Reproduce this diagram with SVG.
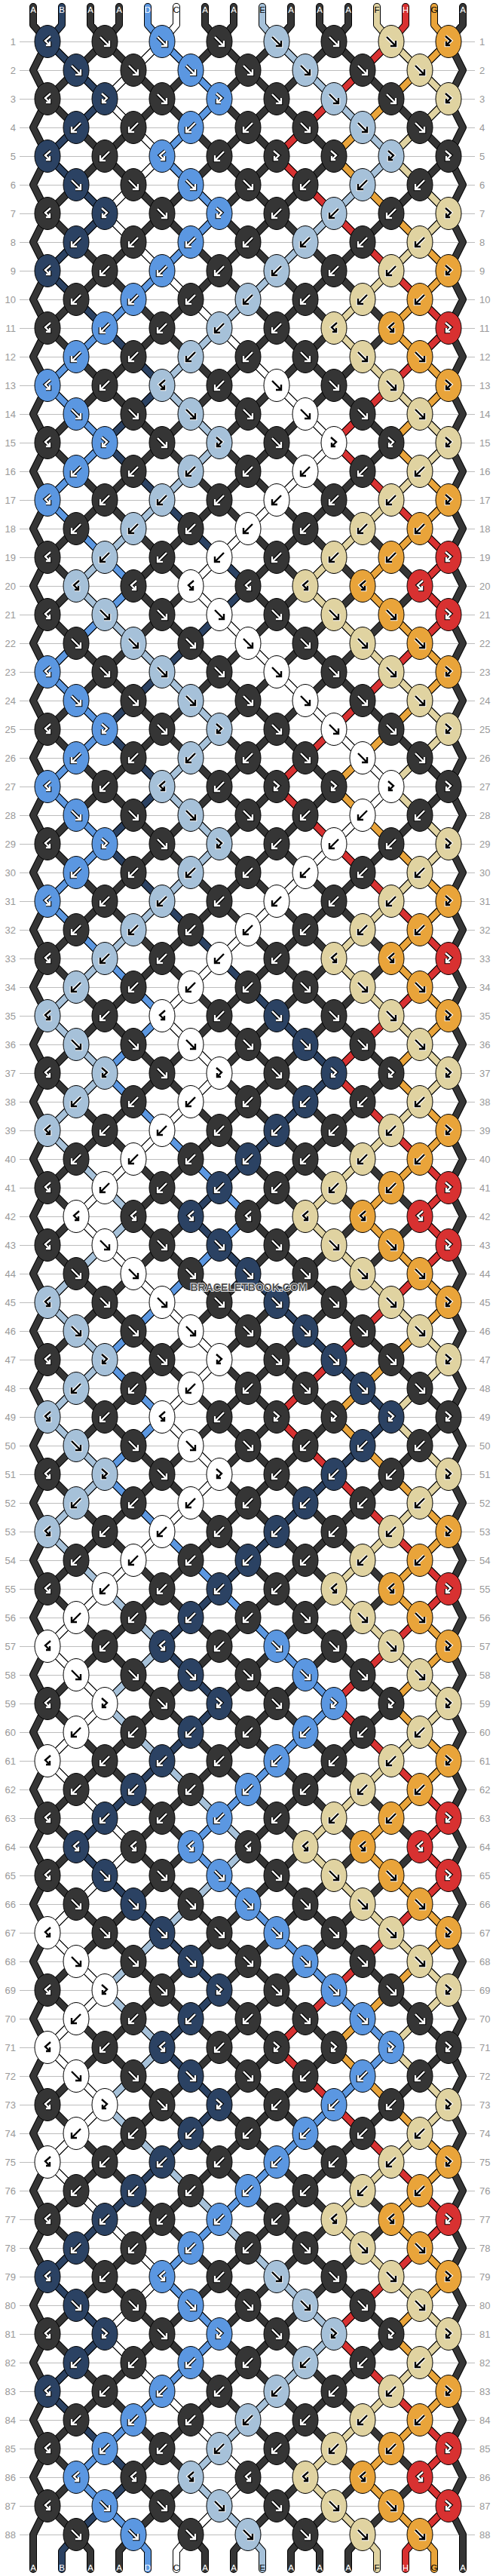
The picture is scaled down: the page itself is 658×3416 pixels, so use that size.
<svg xmlns="http://www.w3.org/2000/svg" width="658" height="3416" viewBox="0 0 658 3416">
<style>
.o{fill:none;stroke:#000;stroke-width:10;stroke-linecap:round;stroke-linejoin:round}
.t{fill:none;stroke-width:8;stroke-linecap:round;stroke-linejoin:round}
.a{stroke:#353535}.b{stroke:#2b4263}.c{stroke:#fff}.d{stroke:#5b97e1}.e{stroke:#a6c1d9}.f{stroke:#e0d3a1}.g{stroke:#e9a43a}.h{stroke:#d83131}
.w1{fill:none;stroke:#000;stroke-width:4.6}
.w2{fill:none;stroke:#fff;stroke-width:2.4}
.k1{fill:none;stroke:#fff;stroke-width:4.6}
.k2{fill:none;stroke:#000;stroke-width:2.4}
.rl{font-family:"Liberation Sans",Arial,sans-serif;font-size:13px;fill:#999}
.sl{font-family:"Liberation Sans",Arial,sans-serif;font-size:11.5px;text-anchor:middle}
</style>
<defs>
<clipPath id="cl"><rect x="63" y="55" width="532" height="3306"/></clipPath>
<pattern id="pl" x="26" y="55" width="604" height="38" patternUnits="userSpaceOnUse"><rect width="604" height="1" fill="#bdbdbd"/></pattern>
<ellipse id="k" rx="17" ry="21.5" stroke="#000" stroke-width="1"/>
<path id="gF" d="M-6-6L5 5M6-1V6H-1"/>
<path id="gB" d="M6-6L-5 5M-6-1V6H1"/>
<path id="gP" d="M-4-7L3-1L-3 5M-3 0V5H2"/>
<path id="gQ" d="M4-7L-3-1L3 5M3 0V5H-2"/>
<g id="wF"><use href="#gF" class="w1"/><use href="#gF" class="w2"/></g>
<g id="wB"><use href="#gB" class="w1"/><use href="#gB" class="w2"/></g>
<g id="wP"><use href="#gP" class="w1"/><use href="#gP" class="w2"/></g>
<g id="wQ"><use href="#gQ" class="w1"/><use href="#gQ" class="w2"/></g>
<g id="kF"><use href="#gF" class="k1"/><use href="#gF" class="k2"/></g>
<g id="kB"><use href="#gB" class="k1"/><use href="#gB" class="k2"/></g>
<g id="kP"><use href="#gP" class="k1"/><use href="#gP" class="k2"/></g>
<g id="kQ"><use href="#gQ" class="k1"/><use href="#gQ" class="k2"/></g>
<use id="eA" href="#k" fill="#353535"/>
<use id="eB" href="#k" fill="#2b4263"/>
<use id="eC" href="#k" fill="#ffffff"/>
<use id="eD" href="#k" fill="#5b97e1"/>
<use id="eE" href="#k" fill="#a6c1d9"/>
<use id="eF" href="#k" fill="#e0d3a1"/>
<use id="eG" href="#k" fill="#e9a43a"/>
<use id="eH" href="#k" fill="#d83131"/>
<g id="AF"><use href="#eA"/><use href="#wF"/></g>
<g id="AB"><use href="#eA"/><use href="#wB"/></g>
<g id="AP"><use href="#eA"/><use href="#wP"/></g>
<g id="AQ"><use href="#eA"/><use href="#wQ"/></g>
<g id="BF"><use href="#eB"/><use href="#wF"/></g>
<g id="BB"><use href="#eB"/><use href="#wB"/></g>
<g id="BP"><use href="#eB"/><use href="#wP"/></g>
<g id="BQ"><use href="#eB"/><use href="#wQ"/></g>
<g id="CF"><use href="#eC"/><use href="#kF"/></g>
<g id="CB"><use href="#eC"/><use href="#kB"/></g>
<g id="CP"><use href="#eC"/><use href="#kP"/></g>
<g id="CQ"><use href="#eC"/><use href="#kQ"/></g>
<g id="DF"><use href="#eD"/><use href="#wF"/></g>
<g id="DB"><use href="#eD"/><use href="#wB"/></g>
<g id="DP"><use href="#eD"/><use href="#wP"/></g>
<g id="DQ"><use href="#eD"/><use href="#wQ"/></g>
<g id="EF"><use href="#eE"/><use href="#kF"/></g>
<g id="EB"><use href="#eE"/><use href="#kB"/></g>
<g id="EP"><use href="#eE"/><use href="#kP"/></g>
<g id="EQ"><use href="#eE"/><use href="#kQ"/></g>
<g id="FF"><use href="#eF"/><use href="#kF"/></g>
<g id="FB"><use href="#eF"/><use href="#kB"/></g>
<g id="FP"><use href="#eF"/><use href="#kP"/></g>
<g id="FQ"><use href="#eF"/><use href="#kQ"/></g>
<g id="GF"><use href="#eG"/><use href="#kF"/></g>
<g id="GB"><use href="#eG"/><use href="#kB"/></g>
<g id="GP"><use href="#eG"/><use href="#kP"/></g>
<g id="GQ"><use href="#eG"/><use href="#kQ"/></g>
<g id="HP"><use href="#eH"/><use href="#wP"/></g>
<g id="HQ"><use href="#eH"/><use href="#wQ"/></g>
<path id="lat" d="M63-477l532 532m-532-456l532 532m-532-456l532 532m-532-456l532 532m-532-456l532 532m-532-456l532 532m-532-456l532 532m-532-456l532 532m-532-456l532 532m-532-456l532 532m-532-456l532 532
m-532-456l532 532m-532-456l532 532m-532-456l532 532m-532-456l532 532m-532-456l532 532m-532-456l532 532m-532-456l532 532m-532-456l532 532m-532-456l532 532m-532-456l532 532
m-532-456l532 532m-532-456l532 532m-532-456l532 532m-532-456l532 532m-532-456l532 532m-532-456l532 532m-532-456l532 532m-532-456l532 532m-532-456l532 532m-532-456l532 532
m-532-456l532 532m-532-456l532 532m-532-456l532 532m-532-456l532 532m-532-456l532 532m-532-456l532 532m-532-456l532 532m-532-456l532 532m-532-456l532 532m-532-456l532 532
m-532-456l532 532m-532-456l532 532m-532-456l532 532m-532-456l532 532m-532-456l532 532m-532-456l532 532m-532-456l532 532m-532-456l532 532m-532-456l532 532m-532-456l532 532
M595-477l-532 532m532-456l-532 532m532-456l-532 532m532-456l-532 532m532-456l-532 532m532-456l-532 532m532-456l-532 532m532-456l-532 532m532-456l-532 532m532-456l-532 532m532-456l-532 532
m532-456l-532 532m532-456l-532 532m532-456l-532 532m532-456l-532 532m532-456l-532 532m532-456l-532 532m532-456l-532 532m532-456l-532 532m532-456l-532 532m532-456l-532 532
m532-456l-532 532m532-456l-532 532m532-456l-532 532m532-456l-532 532m532-456l-532 532m532-456l-532 532m532-456l-532 532m532-456l-532 532m532-456l-532 532m532-456l-532 532
m532-456l-532 532m532-456l-532 532m532-456l-532 532m532-456l-532 532m532-456l-532 532m532-456l-532 532m532-456l-532 532m532-456l-532 532m532-456l-532 532m532-456l-532 532
m532-456l-532 532m532-456l-532 532m532-456l-532 532m532-456l-532 532m532-456l-532 532m532-456l-532 532m532-456l-532 532m532-456l-532 532m532-456l-532 532m532-456l-532 532"/>
<path id="dk" d="M44 9V33l19 22
-19,38 19,38 -19,38 19,38 -19,38 19,38 -19,38 19,38 -19,38 19,38 -19,38 19,38 -19,38 19,38 -19,38 19,38 -19,38 19,38 -19,38 19,38
-19,38 19,38 -19,38 19,38 -19,38 19,38 -19,38 19,38 -19,38 19,38 -19,38 19,38 -19,38 19,38 -19,38 19,38 -19,38 19,38 -19,38 19,38
-19,38 19,38 -19,38 19,38 -19,38 19,38 -19,38 19,38 -19,38 19,38 -19,38 19,38 -19,38 19,38 -19,38 19,38 -19,38 19,38 -19,38 19,38
-19,38 19,38 -19,38 19,38 -19,38 19,38 -19,38 19,38 -19,38 19,38 -19,38 19,38 -19,38 19,38 -19,38 19,38 -19,38 19,38 -19,38 19,38
-19,38 19,38 -19,38 19,38 -19,38 19,38 -19,38V3407
M614 9V33l-19 22
19,38 -19,38 19,38 -19,38 19,38 -19,38 19,38 -19,38 19,38 -19,38 19,38 -19,38 19,38 -19,38 19,38 -19,38 19,38 -19,38 19,38 -19,38
19,38 -19,38 19,38 -19,38 19,38 -19,38 19,38 -19,38 19,38 -19,38 19,38 -19,38 19,38 -19,38 19,38 -19,38 19,38 -19,38 19,38 -19,38
19,38 -19,38 19,38 -19,38 19,38 -19,38 19,38 -19,38 19,38 -19,38 19,38 -19,38 19,38 -19,38 19,38 -19,38 19,38 -19,38 19,38 -19,38
19,38 -19,38 19,38 -19,38 19,38 -19,38 19,38 -19,38 19,38 -19,38 19,38 -19,38 19,38 -19,38 19,38 -19,38 19,38 -19,38 19,38 -19,38
19,38 -19,38 19,38 -19,38 19,38 -19,38 19,38V3407
M120 9V33l19 22M158 9V33l-19 22M272 9V33l19 22M310 9V33l-19 22M386 9V33l-19 22M424 9V33l19 22M462 9V33l-19 22
M101 3361l19 22V3407M177 3361l-19 22V3407M253 3361l19 22V3407M329 3361l-19 22V3407M405 3361l-19 22V3407M405 3361l19 22V3407M481 3361l-19 22V3407"/>
<path id="sB" d="M82 9V33l-19 22
38,38 38,38 -38,38 -38,38 38,38 38,38 -38,38 -38,38 38,38 38,38 38,38 38,38 -38,38 -38,38
38,38 38,38 38,38 38,38 38,38 -38,38 -38,38 -38,38 -38,38 -38,38 38,38 38,38 -38,38 -38,38
38,38 38,38 38,38 38,38 38,38 38,38 38,38 38,38 -38,38 -38,38 -38,38 -38,38 -38,38
38,38 38,38 38,38 38,38 38,38 38,38 38,38 -38,38 -38,38 -38,38 -38,38 -38,38 -38,38 -38,38 -38,38
38,38 38,38 -38,38 -38,38 -38,38 -38,38 -38,38 38,38 38,38 38,38 38,38 38,38 -38,38 -38,38 38,38 38,38
-38,38 -38,38 -38,38 -38,38 -38,38 -38,38 38,38 38,38 -38,38 -38,38 38,38 38,38 38,38 -38,38 -38,38
-19,22V3407"/>
<path id="sD" d="M196 9V33l19 22
38,38 38,38 -38,38 -38,38 38,38 38,38 -38,38 -38,38 -38,38 -38,38 -38,38 -38,38 38,38 38,38 -38,38 -38,38
38,38 38,38 38,38 -38,38 -38,38 -38,38 38,38 38,38 -38,38 -38,38 38,38 38,38 -38,38 -38,38
38,38 38,38 38,38 38,38 -38,38 -38,38 38,38 38,38 38,38 38,38 38,38 -38,38 -38,38 -38,38 -38,38 -38,38
38,38 38,38 -38,38 -38,38 38,38 38,38 38,38 38,38 38,38 38,38 38,38 38,38 -38,38 -38,38 -38,38 -38,38 -38,38
38,38 38,38 38,38 38,38 38,38 38,38 38,38 -38,38 -38,38 -38,38 -38,38 -38,38 -38,38 -38,38 -38,38
38,38 38,38 -38,38 -38,38 -38,38 -38,38 -38,38 38,38 38,38
19,22V3407"/>
<path id="sC" d="M234 9V33l-19 22
-38,38 -38,38 38,38 38,38 -38,38 -38,38 38,38 38,38 38,38 38,38 38,38 38,38 38,38 38,38
-38,38 -38,38 -38,38 -38,38 -38,38 38,38 38,38 38,38 38,38 38,38 38,38 38,38
-38,38 -38,38 -38,38 -38,38 -38,38 -38,38 -38,38 -38,38 38,38 38,38 -38,38 -38,38 -38,38 -38,38 -38,38
38,38 38,38 38,38 38,38 38,38 -38,38 -38,38 38,38 38,38 -38,38 -38,38 -38,38 -38,38 -38,38 -38,38
38,38 38,38 -38,38 -38,38 38,38 38,38 38,38 -38,38 -38,38 -38,38 38,38 38,38 -38,38 -38,38 38,38 38,38 -38,38 -38,38
38,38 38,38 38,38 38,38 -38,38 -38,38 38,38 38,38 38,38 38,38 38,38 -38,38 -38,38
-19,22V3407"/>
<path id="sE" d="M348 9V33l19 22
38,38 38,38 38,38 38,38 -38,38 -38,38 -38,38 -38,38 -38,38 -38,38 -38,38 -38,38 38,38 38,38
-38,38 -38,38 -38,38 -38,38 -38,38 38,38 38,38 38,38 38,38 38,38 -38,38 -38,38 38,38 38,38
-38,38 -38,38 -38,38 -38,38 -38,38 -38,38 38,38 38,38 -38,38 -38,38 38,38 38,38 38,38 -38,38 -38,38 -38,38
38,38 38,38 -38,38 -38,38 38,38 38,38 -38,38 -38,38 38,38 38,38 38,38 38,38 -38,38 -38,38
38,38 38,38 38,38 38,38 38,38 -38,38 -38,38 -38,38 -38,38 -38,38 38,38 38,38 -38,38 -38,38
38,38 38,38 38,38 38,38 38,38 38,38 38,38 38,38 -38,38 -38,38 -38,38 -38,38 -38,38 38,38 38,38
19,22V3407"/>
<path id="sF" d="M500 9V33l19 22
38,38 38,38 -38,38 -38,38 38,38 38,38 -38,38 -38,38 -38,38 -38,38 38,38 38,38 38,38 38,38
-38,38 -38,38 -38,38 -38,38 -38,38 38,38 38,38 38,38 38,38 38,38 -38,38 -38,38 38,38 38,38
-38,38 -38,38 -38,38 -38,38 38,38 38,38 38,38 38,38 -38,38 -38,38 -38,38 -38,38 -38,38
38,38 38,38 38,38 38,38 38,38 -38,38 -38,38 38,38 38,38 -38,38 -38,38 -38,38 -38,38 38,38 38,38 38,38 38,38
-38,38 -38,38 -38,38 -38,38 -38,38 38,38 38,38 38,38 38,38 38,38 -38,38 -38,38 38,38 38,38
-38,38 -38,38 -38,38 -38,38 38,38 38,38 38,38 38,38 -38,38 -38,38 -38,38 -38,38 -38,38 38,38 38,38
19,22V3407"/>
<path id="sH" d="M538 9V33l-19 22
-38,38 -38,38 -38,38 -38,38 38,38 38,38 38,38 38,38 38,38 38,38 -38,38 -38,38 -38,38 -38,38
38,38 38,38 38,38 38,38 -38,38 38,38 -38,38 -38,38 -38,38 -38,38 -38,38 -38,38
38,38 38,38 38,38 38,38 38,38 38,38 -38,38 -38,38 -38,38 -38,38 38,38 38,38 38,38 38,38 -38,38 38,38
-38,38 -38,38 -38,38 -38,38 -38,38 -38,38 38,38 38,38 38,38 38,38 38,38 38,38
-38,38 -38,38 -38,38 -38,38 38,38 38,38 38,38 38,38 -38,38 38,38
-38,38 -38,38 -38,38 -38,38 -38,38 -38,38 38,38 38,38 38,38 38,38 38,38 38,38
-38,38 -38,38 -38,38 -38,38 38,38 38,38 38,38 38,38 -38,38 38,38 -38,38
-19,22V3407"/>
<path id="sG" d="M576 9V33l19 22
-38,38 -38,38 -38,38 -38,38 38,38 38,38 38,38 38,38 -38,38 -38,38 38,38 38,38 -38,38 -38,38 38,38 38,38
-38,38 -38,38 -38,38 38,38 38,38 38,38 -38,38 -38,38 -38,38 -38,38 38,38 38,38 38,38 38,38
-38,38 -38,38 38,38 38,38 -38,38 -38,38 38,38 38,38 -38,38 -38,38 -38,38 38,38 38,38 38,38
-38,38 -38,38 -38,38 -38,38 38,38 38,38 38,38 38,38 -38,38 -38,38 38,38 38,38 -38,38 -38,38 38,38 38,38
-38,38 -38,38 -38,38 38,38 38,38 38,38 -38,38 -38,38 -38,38 -38,38 38,38 38,38 38,38 38,38
-38,38 -38,38 38,38 38,38 -38,38 -38,38 38,38 38,38 -38,38 -38,38 -38,38 38,38 38,38
19,22V3407"/>
</defs>
<rect width="658" height="3416" fill="#fff"/>
<rect id="rowlines" x="26" y="55" width="604" height="3307" fill="url(#pl)"/>
<g id="rowlabels" class="rl">
<g text-anchor="end">
<text x="21" y="59.5">1</text><text x="21" y="97.5">2</text><text x="21" y="135.5">3</text><text x="21" y="173.5">4</text><text x="21" y="211.5">5</text><text x="21" y="249.5">6</text><text x="21" y="287.5">7</text><text x="21" y="325.5">8</text><text x="21" y="363.5">9</text><text x="21" y="401.5">10</text>
<text x="21" y="439.5">11</text><text x="21" y="477.5">12</text><text x="21" y="515.5">13</text><text x="21" y="553.5">14</text><text x="21" y="591.5">15</text><text x="21" y="629.5">16</text><text x="21" y="667.5">17</text><text x="21" y="705.5">18</text><text x="21" y="743.5">19</text><text x="21" y="781.5">20</text>
<text x="21" y="819.5">21</text><text x="21" y="857.5">22</text><text x="21" y="895.5">23</text><text x="21" y="933.5">24</text><text x="21" y="971.5">25</text><text x="21" y="1009.5">26</text><text x="21" y="1047.5">27</text><text x="21" y="1085.5">28</text><text x="21" y="1123.5">29</text><text x="21" y="1161.5">30</text>
<text x="21" y="1199.5">31</text><text x="21" y="1237.5">32</text><text x="21" y="1275.5">33</text><text x="21" y="1313.5">34</text><text x="21" y="1351.5">35</text><text x="21" y="1389.5">36</text><text x="21" y="1427.5">37</text><text x="21" y="1465.5">38</text><text x="21" y="1503.5">39</text><text x="21" y="1541.5">40</text>
<text x="21" y="1579.5">41</text><text x="21" y="1617.5">42</text><text x="21" y="1655.5">43</text><text x="21" y="1693.5">44</text><text x="21" y="1731.5">45</text><text x="21" y="1769.5">46</text><text x="21" y="1807.5">47</text><text x="21" y="1845.5">48</text><text x="21" y="1883.5">49</text><text x="21" y="1921.5">50</text>
<text x="21" y="1959.5">51</text><text x="21" y="1997.5">52</text><text x="21" y="2035.5">53</text><text x="21" y="2073.5">54</text><text x="21" y="2111.5">55</text><text x="21" y="2149.5">56</text><text x="21" y="2187.5">57</text><text x="21" y="2225.5">58</text><text x="21" y="2263.5">59</text><text x="21" y="2301.5">60</text>
<text x="21" y="2339.5">61</text><text x="21" y="2377.5">62</text><text x="21" y="2415.5">63</text><text x="21" y="2453.5">64</text><text x="21" y="2491.5">65</text><text x="21" y="2529.5">66</text><text x="21" y="2567.5">67</text><text x="21" y="2605.5">68</text><text x="21" y="2643.5">69</text><text x="21" y="2681.5">70</text>
<text x="21" y="2719.5">71</text><text x="21" y="2757.5">72</text><text x="21" y="2795.5">73</text><text x="21" y="2833.5">74</text><text x="21" y="2871.5">75</text><text x="21" y="2909.5">76</text><text x="21" y="2947.5">77</text><text x="21" y="2985.5">78</text><text x="21" y="3023.5">79</text><text x="21" y="3061.5">80</text>
<text x="21" y="3099.5">81</text><text x="21" y="3137.5">82</text><text x="21" y="3175.5">83</text><text x="21" y="3213.5">84</text><text x="21" y="3251.5">85</text><text x="21" y="3289.5">86</text><text x="21" y="3327.5">87</text><text x="21" y="3365.5">88</text>
</g>
<g text-anchor="start">
<text x="636" y="59.5">1</text><text x="636" y="97.5">2</text><text x="636" y="135.5">3</text><text x="636" y="173.5">4</text><text x="636" y="211.5">5</text><text x="636" y="249.5">6</text><text x="636" y="287.5">7</text><text x="636" y="325.5">8</text><text x="636" y="363.5">9</text><text x="636" y="401.5">10</text>
<text x="636" y="439.5">11</text><text x="636" y="477.5">12</text><text x="636" y="515.5">13</text><text x="636" y="553.5">14</text><text x="636" y="591.5">15</text><text x="636" y="629.5">16</text><text x="636" y="667.5">17</text><text x="636" y="705.5">18</text><text x="636" y="743.5">19</text><text x="636" y="781.5">20</text>
<text x="636" y="819.5">21</text><text x="636" y="857.5">22</text><text x="636" y="895.5">23</text><text x="636" y="933.5">24</text><text x="636" y="971.5">25</text><text x="636" y="1009.5">26</text><text x="636" y="1047.5">27</text><text x="636" y="1085.5">28</text><text x="636" y="1123.5">29</text><text x="636" y="1161.5">30</text>
<text x="636" y="1199.5">31</text><text x="636" y="1237.5">32</text><text x="636" y="1275.5">33</text><text x="636" y="1313.5">34</text><text x="636" y="1351.5">35</text><text x="636" y="1389.5">36</text><text x="636" y="1427.5">37</text><text x="636" y="1465.5">38</text><text x="636" y="1503.5">39</text><text x="636" y="1541.5">40</text>
<text x="636" y="1579.5">41</text><text x="636" y="1617.5">42</text><text x="636" y="1655.5">43</text><text x="636" y="1693.5">44</text><text x="636" y="1731.5">45</text><text x="636" y="1769.5">46</text><text x="636" y="1807.5">47</text><text x="636" y="1845.5">48</text><text x="636" y="1883.5">49</text><text x="636" y="1921.5">50</text>
<text x="636" y="1959.5">51</text><text x="636" y="1997.5">52</text><text x="636" y="2035.5">53</text><text x="636" y="2073.5">54</text><text x="636" y="2111.5">55</text><text x="636" y="2149.5">56</text><text x="636" y="2187.5">57</text><text x="636" y="2225.5">58</text><text x="636" y="2263.5">59</text><text x="636" y="2301.5">60</text>
<text x="636" y="2339.5">61</text><text x="636" y="2377.5">62</text><text x="636" y="2415.5">63</text><text x="636" y="2453.5">64</text><text x="636" y="2491.5">65</text><text x="636" y="2529.5">66</text><text x="636" y="2567.5">67</text><text x="636" y="2605.5">68</text><text x="636" y="2643.5">69</text><text x="636" y="2681.5">70</text>
<text x="636" y="2719.5">71</text><text x="636" y="2757.5">72</text><text x="636" y="2795.5">73</text><text x="636" y="2833.5">74</text><text x="636" y="2871.5">75</text><text x="636" y="2909.5">76</text><text x="636" y="2947.5">77</text><text x="636" y="2985.5">78</text><text x="636" y="3023.5">79</text><text x="636" y="3061.5">80</text>
<text x="636" y="3099.5">81</text><text x="636" y="3137.5">82</text><text x="636" y="3175.5">83</text><text x="636" y="3213.5">84</text><text x="636" y="3251.5">85</text><text x="636" y="3289.5">86</text><text x="636" y="3327.5">87</text><text x="636" y="3365.5">88</text>
</g>
</g>
<g id="connectors">
<g clip-path="url(#cl)"><use href="#lat" class="o"/><use href="#lat" class="t a"/></g>
<use href="#dk" class="o"/><use href="#dk" class="t a"/>
<g class="o"><use href="#sB"/><use href="#sD"/><use href="#sC"/><use href="#sE"/><use href="#sF"/><use href="#sH"/><use href="#sG"/></g>
<use href="#sB" class="t b"/><use href="#sD" class="t d"/><use href="#sC" class="t c"/><use href="#sE" class="t e"/><use href="#sF" class="t f"/><use href="#sH" class="t h"/><use href="#sG" class="t g"/>
</g>
<g id="knots">
<g id="row1" transform="translate(0,55)"><use href="#BQ" x="63"/><use href="#AF" x="139"/><use href="#DF" x="215"/><use href="#AF" x="291"/><use href="#EF" x="367"/><use href="#AF" x="443"/><use href="#FF" x="519"/><use href="#GP" x="595"/></g>
<g id="row2" transform="translate(0,93)"><use href="#BF" x="101"/><use href="#AF" x="177"/><use href="#DF" x="253"/><use href="#AF" x="329"/><use href="#EF" x="405"/><use href="#AF" x="481"/><use href="#FF" x="557"/></g>
<g id="row3" transform="translate(0,131)"><use href="#AQ" x="63"/><use href="#BP" x="139"/><use href="#AF" x="215"/><use href="#DP" x="291"/><use href="#AF" x="367"/><use href="#EF" x="443"/><use href="#AF" x="519"/><use href="#FP" x="595"/></g>
<g id="row4" transform="translate(0,169)"><use href="#BB" x="101"/><use href="#AB" x="177"/><use href="#DB" x="253"/><use href="#AB" x="329"/><use href="#AF" x="405"/><use href="#EF" x="481"/><use href="#AF" x="557"/></g>
<g id="row5" transform="translate(0,207)"><use href="#BQ" x="63"/><use href="#AB" x="139"/><use href="#DQ" x="215"/><use href="#AB" x="291"/><use href="#AP" x="367"/><use href="#AP" x="443"/><use href="#EP" x="519"/><use href="#AP" x="595"/></g>
<g id="row6" transform="translate(0,245)"><use href="#BF" x="101"/><use href="#AF" x="177"/><use href="#DF" x="253"/><use href="#AF" x="329"/><use href="#AB" x="405"/><use href="#EB" x="481"/><use href="#AB" x="557"/></g>
<g id="row7" transform="translate(0,283)"><use href="#AQ" x="63"/><use href="#BP" x="139"/><use href="#AF" x="215"/><use href="#DP" x="291"/><use href="#AB" x="367"/><use href="#EB" x="443"/><use href="#AB" x="519"/><use href="#FP" x="595"/></g>
<g id="row8" transform="translate(0,321)"><use href="#BB" x="101"/><use href="#AB" x="177"/><use href="#DB" x="253"/><use href="#AB" x="329"/><use href="#EB" x="405"/><use href="#AB" x="481"/><use href="#FB" x="557"/></g>
<g id="row9" transform="translate(0,359)"><use href="#BQ" x="63"/><use href="#AB" x="139"/><use href="#DB" x="215"/><use href="#AB" x="291"/><use href="#EB" x="367"/><use href="#AB" x="443"/><use href="#FB" x="519"/><use href="#GP" x="595"/></g>
<g id="row10" transform="translate(0,397)"><use href="#AB" x="101"/><use href="#DB" x="177"/><use href="#AB" x="253"/><use href="#EB" x="329"/><use href="#AB" x="405"/><use href="#FB" x="481"/><use href="#GB" x="557"/></g>
<g id="row11" transform="translate(0,435)"><use href="#AQ" x="63"/><use href="#DB" x="139"/><use href="#AB" x="215"/><use href="#EB" x="291"/><use href="#AB" x="367"/><use href="#FQ" x="443"/><use href="#GQ" x="519"/><use href="#HP" x="595"/></g>
<g id="row12" transform="translate(0,473)"><use href="#DB" x="101"/><use href="#AB" x="177"/><use href="#EB" x="253"/><use href="#AB" x="329"/><use href="#AF" x="405"/><use href="#FF" x="481"/><use href="#GF" x="557"/></g>
<g id="row13" transform="translate(0,511)"><use href="#DQ" x="63"/><use href="#AB" x="139"/><use href="#EQ" x="215"/><use href="#AB" x="291"/><use href="#CF" x="367"/><use href="#AF" x="443"/><use href="#FF" x="519"/><use href="#GP" x="595"/></g>
<g id="row14" transform="translate(0,549)"><use href="#DF" x="101"/><use href="#AF" x="177"/><use href="#EF" x="253"/><use href="#AF" x="329"/><use href="#CF" x="405"/><use href="#AF" x="481"/><use href="#FF" x="557"/></g>
<g id="row15" transform="translate(0,587)"><use href="#AQ" x="63"/><use href="#DP" x="139"/><use href="#AF" x="215"/><use href="#EP" x="291"/><use href="#AF" x="367"/><use href="#CP" x="443"/><use href="#AP" x="519"/><use href="#FP" x="595"/></g>
<g id="row16" transform="translate(0,625)"><use href="#DB" x="101"/><use href="#AB" x="177"/><use href="#EB" x="253"/><use href="#AB" x="329"/><use href="#CB" x="405"/><use href="#AB" x="481"/><use href="#FB" x="557"/></g>
<g id="row17" transform="translate(0,663)"><use href="#DQ" x="63"/><use href="#AB" x="139"/><use href="#EB" x="215"/><use href="#AB" x="291"/><use href="#CB" x="367"/><use href="#AB" x="443"/><use href="#FB" x="519"/><use href="#GP" x="595"/></g>
<g id="row18" transform="translate(0,701)"><use href="#AB" x="101"/><use href="#EB" x="177"/><use href="#AB" x="253"/><use href="#CB" x="329"/><use href="#AB" x="405"/><use href="#FB" x="481"/><use href="#GB" x="557"/></g>
<g id="row19" transform="translate(0,739)"><use href="#AQ" x="63"/><use href="#EB" x="139"/><use href="#AB" x="215"/><use href="#CB" x="291"/><use href="#AB" x="367"/><use href="#FB" x="443"/><use href="#GB" x="519"/><use href="#HP" x="595"/></g>
<g id="row20" transform="translate(0,777)"><use href="#EQ" x="101"/><use href="#AQ" x="177"/><use href="#CQ" x="253"/><use href="#AQ" x="329"/><use href="#FQ" x="405"/><use href="#GQ" x="481"/><use href="#HQ" x="557"/></g>
<g id="row21" transform="translate(0,815)"><use href="#AQ" x="63"/><use href="#EF" x="139"/><use href="#AF" x="215"/><use href="#CF" x="291"/><use href="#AF" x="367"/><use href="#FF" x="443"/><use href="#GF" x="519"/><use href="#HP" x="595"/></g>
<g id="row22" transform="translate(0,853)"><use href="#AF" x="101"/><use href="#EF" x="177"/><use href="#AF" x="253"/><use href="#CF" x="329"/><use href="#AF" x="405"/><use href="#FF" x="481"/><use href="#GF" x="557"/></g>
<g id="row23" transform="translate(0,891)"><use href="#DQ" x="63"/><use href="#AF" x="139"/><use href="#EF" x="215"/><use href="#AF" x="291"/><use href="#CF" x="367"/><use href="#AF" x="443"/><use href="#FF" x="519"/><use href="#GP" x="595"/></g>
<g id="row24" transform="translate(0,929)"><use href="#DF" x="101"/><use href="#AF" x="177"/><use href="#EF" x="253"/><use href="#AF" x="329"/><use href="#CF" x="405"/><use href="#AF" x="481"/><use href="#FF" x="557"/></g>
<g id="row25" transform="translate(0,967)"><use href="#AQ" x="63"/><use href="#DP" x="139"/><use href="#AF" x="215"/><use href="#EP" x="291"/><use href="#AF" x="367"/><use href="#CF" x="443"/><use href="#AF" x="519"/><use href="#FP" x="595"/></g>
<g id="row26" transform="translate(0,1005)"><use href="#DB" x="101"/><use href="#AB" x="177"/><use href="#EB" x="253"/><use href="#AB" x="329"/><use href="#AF" x="405"/><use href="#CF" x="481"/><use href="#AF" x="557"/></g>
<g id="row27" transform="translate(0,1043)"><use href="#DQ" x="63"/><use href="#AB" x="139"/><use href="#EQ" x="215"/><use href="#AB" x="291"/><use href="#AP" x="367"/><use href="#AP" x="443"/><use href="#CP" x="519"/><use href="#AP" x="595"/></g>
<g id="row28" transform="translate(0,1081)"><use href="#DF" x="101"/><use href="#AF" x="177"/><use href="#EF" x="253"/><use href="#AF" x="329"/><use href="#AB" x="405"/><use href="#CB" x="481"/><use href="#AB" x="557"/></g>
<g id="row29" transform="translate(0,1119)"><use href="#AQ" x="63"/><use href="#DP" x="139"/><use href="#AF" x="215"/><use href="#EP" x="291"/><use href="#AB" x="367"/><use href="#CB" x="443"/><use href="#AB" x="519"/><use href="#FP" x="595"/></g>
<g id="row30" transform="translate(0,1157)"><use href="#DB" x="101"/><use href="#AB" x="177"/><use href="#EB" x="253"/><use href="#AB" x="329"/><use href="#CB" x="405"/><use href="#AB" x="481"/><use href="#FB" x="557"/></g>
<g id="row31" transform="translate(0,1195)"><use href="#DQ" x="63"/><use href="#AB" x="139"/><use href="#EB" x="215"/><use href="#AB" x="291"/><use href="#CB" x="367"/><use href="#AB" x="443"/><use href="#FB" x="519"/><use href="#GP" x="595"/></g>
<g id="row32" transform="translate(0,1233)"><use href="#AB" x="101"/><use href="#EB" x="177"/><use href="#AB" x="253"/><use href="#CB" x="329"/><use href="#AB" x="405"/><use href="#FB" x="481"/><use href="#GB" x="557"/></g>
<g id="row33" transform="translate(0,1271)"><use href="#AQ" x="63"/><use href="#EB" x="139"/><use href="#AB" x="215"/><use href="#CB" x="291"/><use href="#AB" x="367"/><use href="#FQ" x="443"/><use href="#GQ" x="519"/><use href="#HP" x="595"/></g>
<g id="row34" transform="translate(0,1309)"><use href="#EB" x="101"/><use href="#AB" x="177"/><use href="#CB" x="253"/><use href="#AB" x="329"/><use href="#AF" x="405"/><use href="#FF" x="481"/><use href="#GF" x="557"/></g>
<g id="row35" transform="translate(0,1347)"><use href="#EQ" x="63"/><use href="#AB" x="139"/><use href="#CQ" x="215"/><use href="#AB" x="291"/><use href="#BF" x="367"/><use href="#AF" x="443"/><use href="#FF" x="519"/><use href="#GP" x="595"/></g>
<g id="row36" transform="translate(0,1385)"><use href="#EF" x="101"/><use href="#AF" x="177"/><use href="#CF" x="253"/><use href="#AF" x="329"/><use href="#BF" x="405"/><use href="#AF" x="481"/><use href="#FF" x="557"/></g>
<g id="row37" transform="translate(0,1423)"><use href="#AQ" x="63"/><use href="#EP" x="139"/><use href="#AF" x="215"/><use href="#CP" x="291"/><use href="#AF" x="367"/><use href="#BP" x="443"/><use href="#AP" x="519"/><use href="#FP" x="595"/></g>
<g id="row38" transform="translate(0,1461)"><use href="#EB" x="101"/><use href="#AB" x="177"/><use href="#CB" x="253"/><use href="#AB" x="329"/><use href="#BB" x="405"/><use href="#AB" x="481"/><use href="#FB" x="557"/></g>
<g id="row39" transform="translate(0,1499)"><use href="#EQ" x="63"/><use href="#AB" x="139"/><use href="#CB" x="215"/><use href="#AB" x="291"/><use href="#BB" x="367"/><use href="#AB" x="443"/><use href="#FB" x="519"/><use href="#GP" x="595"/></g>
<g id="row40" transform="translate(0,1537)"><use href="#AB" x="101"/><use href="#CB" x="177"/><use href="#AB" x="253"/><use href="#BB" x="329"/><use href="#AB" x="405"/><use href="#FB" x="481"/><use href="#GB" x="557"/></g>
<g id="row41" transform="translate(0,1575)"><use href="#AQ" x="63"/><use href="#CB" x="139"/><use href="#AB" x="215"/><use href="#BB" x="291"/><use href="#AB" x="367"/><use href="#FB" x="443"/><use href="#GB" x="519"/><use href="#HP" x="595"/></g>
<g id="row42" transform="translate(0,1613)"><use href="#CQ" x="101"/><use href="#AQ" x="177"/><use href="#BQ" x="253"/><use href="#AQ" x="329"/><use href="#FQ" x="405"/><use href="#GQ" x="481"/><use href="#HQ" x="557"/></g>
<g id="row43" transform="translate(0,1651)"><use href="#AQ" x="63"/><use href="#CF" x="139"/><use href="#AF" x="215"/><use href="#BF" x="291"/><use href="#AF" x="367"/><use href="#FF" x="443"/><use href="#GF" x="519"/><use href="#HP" x="595"/></g>
<g id="row44" transform="translate(0,1689)"><use href="#AF" x="101"/><use href="#CF" x="177"/><use href="#AF" x="253"/><use href="#BF" x="329"/><use href="#AF" x="405"/><use href="#FF" x="481"/><use href="#GF" x="557"/></g>
<g id="row45" transform="translate(0,1727)"><use href="#EQ" x="63"/><use href="#AF" x="139"/><use href="#CF" x="215"/><use href="#AF" x="291"/><use href="#BF" x="367"/><use href="#AF" x="443"/><use href="#FF" x="519"/><use href="#GP" x="595"/></g>
<g id="row46" transform="translate(0,1765)"><use href="#EF" x="101"/><use href="#AF" x="177"/><use href="#CF" x="253"/><use href="#AF" x="329"/><use href="#BF" x="405"/><use href="#AF" x="481"/><use href="#FF" x="557"/></g>
<g id="row47" transform="translate(0,1803)"><use href="#AQ" x="63"/><use href="#EP" x="139"/><use href="#AF" x="215"/><use href="#CP" x="291"/><use href="#AF" x="367"/><use href="#BF" x="443"/><use href="#AF" x="519"/><use href="#FP" x="595"/></g>
<g id="row48" transform="translate(0,1841)"><use href="#EB" x="101"/><use href="#AB" x="177"/><use href="#CB" x="253"/><use href="#AB" x="329"/><use href="#AF" x="405"/><use href="#BF" x="481"/><use href="#AF" x="557"/></g>
<g id="row49" transform="translate(0,1879)"><use href="#EQ" x="63"/><use href="#AB" x="139"/><use href="#CQ" x="215"/><use href="#AB" x="291"/><use href="#AP" x="367"/><use href="#AP" x="443"/><use href="#BP" x="519"/><use href="#AP" x="595"/></g>
<g id="row50" transform="translate(0,1917)"><use href="#EF" x="101"/><use href="#AF" x="177"/><use href="#CF" x="253"/><use href="#AF" x="329"/><use href="#AB" x="405"/><use href="#BB" x="481"/><use href="#AB" x="557"/></g>
<g id="row51" transform="translate(0,1955)"><use href="#AQ" x="63"/><use href="#EP" x="139"/><use href="#AF" x="215"/><use href="#CP" x="291"/><use href="#AB" x="367"/><use href="#BB" x="443"/><use href="#AB" x="519"/><use href="#FP" x="595"/></g>
<g id="row52" transform="translate(0,1993)"><use href="#EB" x="101"/><use href="#AB" x="177"/><use href="#CB" x="253"/><use href="#AB" x="329"/><use href="#BB" x="405"/><use href="#AB" x="481"/><use href="#FB" x="557"/></g>
<g id="row53" transform="translate(0,2031)"><use href="#EQ" x="63"/><use href="#AB" x="139"/><use href="#CB" x="215"/><use href="#AB" x="291"/><use href="#BB" x="367"/><use href="#AB" x="443"/><use href="#FB" x="519"/><use href="#GP" x="595"/></g>
<g id="row54" transform="translate(0,2069)"><use href="#AB" x="101"/><use href="#CB" x="177"/><use href="#AB" x="253"/><use href="#BB" x="329"/><use href="#AB" x="405"/><use href="#FB" x="481"/><use href="#GB" x="557"/></g>
<g id="row55" transform="translate(0,2107)"><use href="#AQ" x="63"/><use href="#CB" x="139"/><use href="#AB" x="215"/><use href="#BB" x="291"/><use href="#AB" x="367"/><use href="#FQ" x="443"/><use href="#GQ" x="519"/><use href="#HP" x="595"/></g>
<g id="row56" transform="translate(0,2145)"><use href="#CB" x="101"/><use href="#AB" x="177"/><use href="#BB" x="253"/><use href="#AB" x="329"/><use href="#AF" x="405"/><use href="#FF" x="481"/><use href="#GF" x="557"/></g>
<g id="row57" transform="translate(0,2183)"><use href="#CQ" x="63"/><use href="#AB" x="139"/><use href="#BQ" x="215"/><use href="#AB" x="291"/><use href="#DF" x="367"/><use href="#AF" x="443"/><use href="#FF" x="519"/><use href="#GP" x="595"/></g>
<g id="row58" transform="translate(0,2221)"><use href="#CF" x="101"/><use href="#AF" x="177"/><use href="#BF" x="253"/><use href="#AF" x="329"/><use href="#DF" x="405"/><use href="#AF" x="481"/><use href="#FF" x="557"/></g>
<g id="row59" transform="translate(0,2259)"><use href="#AQ" x="63"/><use href="#CP" x="139"/><use href="#AF" x="215"/><use href="#BP" x="291"/><use href="#AF" x="367"/><use href="#DP" x="443"/><use href="#AP" x="519"/><use href="#FP" x="595"/></g>
<g id="row60" transform="translate(0,2297)"><use href="#CB" x="101"/><use href="#AB" x="177"/><use href="#BB" x="253"/><use href="#AB" x="329"/><use href="#DB" x="405"/><use href="#AB" x="481"/><use href="#FB" x="557"/></g>
<g id="row61" transform="translate(0,2335)"><use href="#CQ" x="63"/><use href="#AB" x="139"/><use href="#BB" x="215"/><use href="#AB" x="291"/><use href="#DB" x="367"/><use href="#AB" x="443"/><use href="#FB" x="519"/><use href="#GP" x="595"/></g>
<g id="row62" transform="translate(0,2373)"><use href="#AB" x="101"/><use href="#BB" x="177"/><use href="#AB" x="253"/><use href="#DB" x="329"/><use href="#AB" x="405"/><use href="#FB" x="481"/><use href="#GB" x="557"/></g>
<g id="row63" transform="translate(0,2411)"><use href="#AQ" x="63"/><use href="#BB" x="139"/><use href="#AB" x="215"/><use href="#DB" x="291"/><use href="#AB" x="367"/><use href="#FB" x="443"/><use href="#GB" x="519"/><use href="#HP" x="595"/></g>
<g id="row64" transform="translate(0,2449)"><use href="#BQ" x="101"/><use href="#AQ" x="177"/><use href="#DQ" x="253"/><use href="#AQ" x="329"/><use href="#FQ" x="405"/><use href="#GQ" x="481"/><use href="#HQ" x="557"/></g>
<g id="row65" transform="translate(0,2487)"><use href="#AQ" x="63"/><use href="#BF" x="139"/><use href="#AF" x="215"/><use href="#DF" x="291"/><use href="#AF" x="367"/><use href="#FF" x="443"/><use href="#GF" x="519"/><use href="#HP" x="595"/></g>
<g id="row66" transform="translate(0,2525)"><use href="#AF" x="101"/><use href="#BF" x="177"/><use href="#AF" x="253"/><use href="#DF" x="329"/><use href="#AF" x="405"/><use href="#FF" x="481"/><use href="#GF" x="557"/></g>
<g id="row67" transform="translate(0,2563)"><use href="#CQ" x="63"/><use href="#AF" x="139"/><use href="#BF" x="215"/><use href="#AF" x="291"/><use href="#DF" x="367"/><use href="#AF" x="443"/><use href="#FF" x="519"/><use href="#GP" x="595"/></g>
<g id="row68" transform="translate(0,2601)"><use href="#CF" x="101"/><use href="#AF" x="177"/><use href="#BF" x="253"/><use href="#AF" x="329"/><use href="#DF" x="405"/><use href="#AF" x="481"/><use href="#FF" x="557"/></g>
<g id="row69" transform="translate(0,2639)"><use href="#AQ" x="63"/><use href="#CP" x="139"/><use href="#AF" x="215"/><use href="#BP" x="291"/><use href="#AF" x="367"/><use href="#DF" x="443"/><use href="#AF" x="519"/><use href="#FP" x="595"/></g>
<g id="row70" transform="translate(0,2677)"><use href="#CB" x="101"/><use href="#AB" x="177"/><use href="#BB" x="253"/><use href="#AB" x="329"/><use href="#AF" x="405"/><use href="#DF" x="481"/><use href="#AF" x="557"/></g>
<g id="row71" transform="translate(0,2715)"><use href="#CQ" x="63"/><use href="#AB" x="139"/><use href="#BQ" x="215"/><use href="#AB" x="291"/><use href="#AP" x="367"/><use href="#AP" x="443"/><use href="#DP" x="519"/><use href="#AP" x="595"/></g>
<g id="row72" transform="translate(0,2753)"><use href="#CF" x="101"/><use href="#AF" x="177"/><use href="#BF" x="253"/><use href="#AF" x="329"/><use href="#AB" x="405"/><use href="#DB" x="481"/><use href="#AB" x="557"/></g>
<g id="row73" transform="translate(0,2791)"><use href="#AQ" x="63"/><use href="#CP" x="139"/><use href="#AF" x="215"/><use href="#BP" x="291"/><use href="#AB" x="367"/><use href="#DB" x="443"/><use href="#AB" x="519"/><use href="#FP" x="595"/></g>
<g id="row74" transform="translate(0,2829)"><use href="#CB" x="101"/><use href="#AB" x="177"/><use href="#BB" x="253"/><use href="#AB" x="329"/><use href="#DB" x="405"/><use href="#AB" x="481"/><use href="#FB" x="557"/></g>
<g id="row75" transform="translate(0,2867)"><use href="#CQ" x="63"/><use href="#AB" x="139"/><use href="#BB" x="215"/><use href="#AB" x="291"/><use href="#DB" x="367"/><use href="#AB" x="443"/><use href="#FB" x="519"/><use href="#GP" x="595"/></g>
<g id="row76" transform="translate(0,2905)"><use href="#AB" x="101"/><use href="#BB" x="177"/><use href="#AB" x="253"/><use href="#DB" x="329"/><use href="#AB" x="405"/><use href="#FB" x="481"/><use href="#GB" x="557"/></g>
<g id="row77" transform="translate(0,2943)"><use href="#AQ" x="63"/><use href="#BB" x="139"/><use href="#AB" x="215"/><use href="#DB" x="291"/><use href="#AB" x="367"/><use href="#FQ" x="443"/><use href="#GQ" x="519"/><use href="#HP" x="595"/></g>
<g id="row78" transform="translate(0,2981)"><use href="#BB" x="101"/><use href="#AB" x="177"/><use href="#DB" x="253"/><use href="#AB" x="329"/><use href="#AF" x="405"/><use href="#FF" x="481"/><use href="#GF" x="557"/></g>
<g id="row79" transform="translate(0,3019)"><use href="#BQ" x="63"/><use href="#AB" x="139"/><use href="#DQ" x="215"/><use href="#AB" x="291"/><use href="#EF" x="367"/><use href="#AF" x="443"/><use href="#FF" x="519"/><use href="#GP" x="595"/></g>
<g id="row80" transform="translate(0,3057)"><use href="#BF" x="101"/><use href="#AF" x="177"/><use href="#DF" x="253"/><use href="#AF" x="329"/><use href="#EF" x="405"/><use href="#AF" x="481"/><use href="#FF" x="557"/></g>
<g id="row81" transform="translate(0,3095)"><use href="#AQ" x="63"/><use href="#BP" x="139"/><use href="#AF" x="215"/><use href="#DP" x="291"/><use href="#AF" x="367"/><use href="#EP" x="443"/><use href="#AP" x="519"/><use href="#FP" x="595"/></g>
<g id="row82" transform="translate(0,3133)"><use href="#BB" x="101"/><use href="#AB" x="177"/><use href="#DB" x="253"/><use href="#AB" x="329"/><use href="#EB" x="405"/><use href="#AB" x="481"/><use href="#FB" x="557"/></g>
<g id="row83" transform="translate(0,3171)"><use href="#BQ" x="63"/><use href="#AB" x="139"/><use href="#DB" x="215"/><use href="#AB" x="291"/><use href="#EB" x="367"/><use href="#AB" x="443"/><use href="#FB" x="519"/><use href="#GP" x="595"/></g>
<g id="row84" transform="translate(0,3209)"><use href="#AB" x="101"/><use href="#DB" x="177"/><use href="#AB" x="253"/><use href="#EB" x="329"/><use href="#AB" x="405"/><use href="#FB" x="481"/><use href="#GB" x="557"/></g>
<g id="row85" transform="translate(0,3247)"><use href="#AQ" x="63"/><use href="#DB" x="139"/><use href="#AB" x="215"/><use href="#EB" x="291"/><use href="#AB" x="367"/><use href="#FB" x="443"/><use href="#GB" x="519"/><use href="#HP" x="595"/></g>
<g id="row86" transform="translate(0,3285)"><use href="#DQ" x="101"/><use href="#AQ" x="177"/><use href="#EQ" x="253"/><use href="#AQ" x="329"/><use href="#FQ" x="405"/><use href="#GQ" x="481"/><use href="#HQ" x="557"/></g>
<g id="row87" transform="translate(0,3323)"><use href="#AQ" x="63"/><use href="#DF" x="139"/><use href="#AF" x="215"/><use href="#EF" x="291"/><use href="#AF" x="367"/><use href="#FF" x="443"/><use href="#GF" x="519"/><use href="#HP" x="595"/></g>
<g id="row88" transform="translate(0,3361)"><use href="#AF" x="101"/><use href="#DF" x="177"/><use href="#AF" x="253"/><use href="#EF" x="329"/><use href="#AF" x="405"/><use href="#FF" x="481"/><use href="#GF" x="557"/></g>
</g>
<g id="stringlabels" class="sl">
<g id="toplabels">
<text x="44" y="16.7" fill="#fff">A</text><text x="82" y="16.7" fill="#fff">B</text><text x="120" y="16.7" fill="#fff">A</text><text x="158" y="16.7" fill="#fff">A</text><text x="196" y="16.7" fill="#fff">D</text><text x="234" y="16.7" fill="#000">C</text><text x="272" y="16.7" fill="#fff">A</text><text x="310" y="16.7" fill="#fff">A</text><text x="348" y="16.7" fill="#000">E</text><text x="386" y="16.7" fill="#fff">A</text><text x="424" y="16.7" fill="#fff">A</text><text x="462" y="16.7" fill="#fff">A</text><text x="500" y="16.7" fill="#000">F</text><text x="538" y="16.7" fill="#fff">H</text><text x="576" y="16.7" fill="#000">G</text><text x="614" y="16.7" fill="#fff">A</text>
</g>
<g id="bottomlabels">
<text x="44" y="3409" fill="#fff">A</text><text x="82" y="3409" fill="#fff">B</text><text x="120" y="3409" fill="#fff">A</text><text x="158" y="3409" fill="#fff">A</text><text x="196" y="3409" fill="#fff">D</text><text x="234" y="3409" fill="#000">C</text><text x="272" y="3409" fill="#fff">A</text><text x="310" y="3409" fill="#fff">A</text><text x="348" y="3409" fill="#000">E</text><text x="386" y="3409" fill="#fff">A</text><text x="424" y="3409" fill="#fff">A</text><text x="462" y="3409" fill="#fff">A</text><text x="500" y="3409" fill="#000">F</text><text x="538" y="3409" fill="#fff">H</text><text x="576" y="3409" fill="#000">G</text><text x="614" y="3409" fill="#fff">A</text>
</g>
</g>
<text id="watermark" x="330" y="1712" text-anchor="middle" font-family="'Liberation Sans',Arial,sans-serif" font-weight="bold" font-size="14" fill="#505050" stroke="#ffffff" stroke-width="1.6" paint-order="stroke" textLength="155" lengthAdjust="spacingAndGlyphs">BRACELETBOOK.COM</text>
</svg>
